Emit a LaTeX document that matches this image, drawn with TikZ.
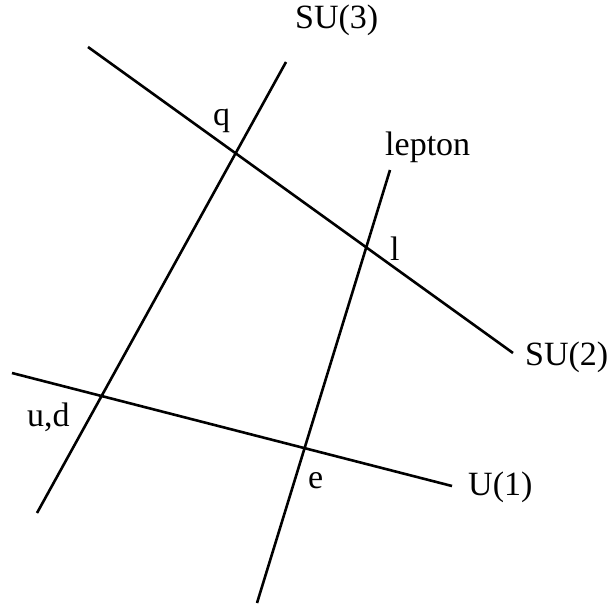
\documentclass[tikz,border=0pt]{standalone}
\usepackage{fontspec}
\setmainfont{Liberation Serif}
\usetikzlibrary{positioning}

\begin{document}
\begin{tikzpicture}[x=1pt, y=-1pt,
    line/.style={line width=2.6pt, black},
    label/.style={anchor=base west, inner sep=0pt, font=\fontsize{34}{40}\selectfont}
]
    \useasboundingbox (0,0) rectangle (612,608);

    % Line ends
    \coordinate (su3a) at (37,513);
    \coordinate (su3b) at (286,62);
    \coordinate (su2a) at (88,47);
    \coordinate (su2b) at (513,353);
    \coordinate (lepa) at (257,603);
    \coordinate (lepb) at (390,170);
    \coordinate (u1a) at (12,373);
    \coordinate (u1b) at (452,486);

    % Lines
    \draw[line] (su3a) -- (su3b);
    \draw[line] (su2a) -- (su2b);
    \draw[line] (lepa) -- (lepb);
    \draw[line] (u1a) -- (u1b);

    % Group labels
    \node[label] (su3) at (295,28) {SU(3)};
    \node[label] (su2) at (525,365) {SU(2)};
    \node[label] (lep) at (385,155) {lepton};
    \node[label] (u1) at (468,495) {U(1)};

    % Particle labels
    \node[label] (q) at (213,125) {q};
    \node[label] (l) at (390,260) {l};
    \node[label] (ud) at (27,426) {u,d};
    \node[label] (e) at (308,488) {e};
\end{tikzpicture}
\end{document}
